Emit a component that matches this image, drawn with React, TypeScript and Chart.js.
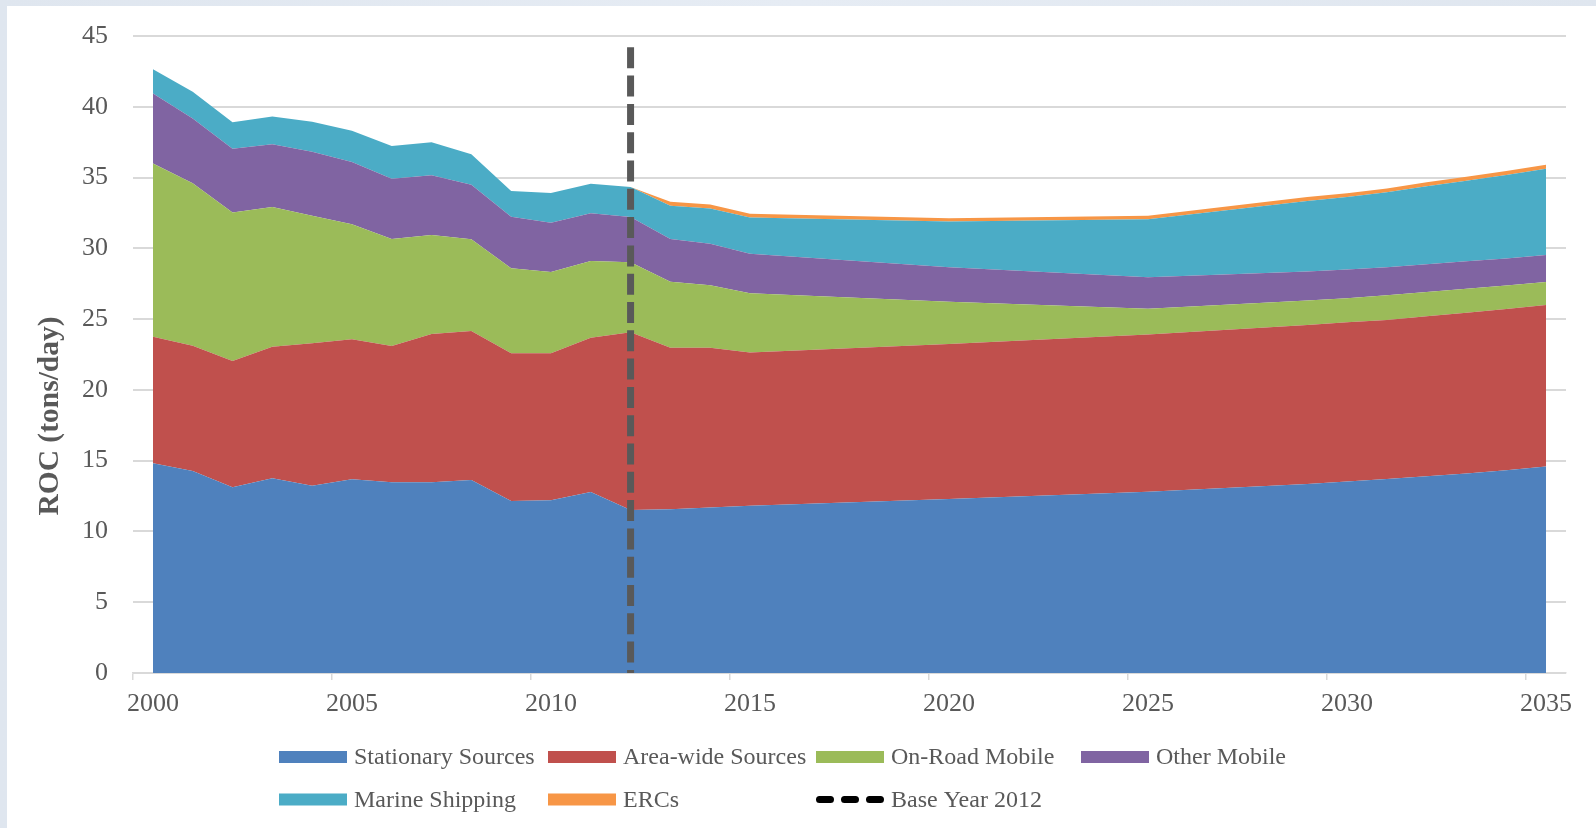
import React, { useEffect, useRef } from 'react';
import { Chart, registerables } from 'chart.js';

Chart.register(...registerables);

// ---- data ----
const years = [
  '2000', '2001', '2002', '2003', '2004', '2005', '2006', '2007', '2008', '2009',
  '2010', '2011', '2012', '2013', '2014', '2015', '2016', '2017', '2018', '2019',
  '2020', '2021', '2022', '2023', '2024', '2025', '2026', '2027', '2028', '2029',
  '2030', '2031', '2032', '2033', '2034', '2035',
];

// null = year not read separately (straight segment in the picture)
const stationary = [
  14.81, 14.27, 13.12, 13.75, 13.23, 13.68, 13.47, 13.47, 13.63, 12.15,
  12.2, 12.79, 11.51, 11.56, 11.7, 11.82, null, null, null, null,
  12.29, null, null, null, null, 12.81, null, null, null, 13.35,
  13.52, 13.7, 13.9, 14.1, 14.33, 14.58,
];
const areaWide = [
  8.95, 8.85, 8.92, 9.3, 10.06, 9.89, 9.63, 10.48, 10.53, 10.43,
  10.38, 10.9, 12.56, 11.42, 11.28, 10.83, null, null, null, null,
  10.95, null, null, null, null, 11.11, null, null, null, 11.23,
  11.25, 11.24, 11.3, 11.35, 11.39, 11.42,
];
const onRoad = [
  12.24, 11.47, 10.5, 9.87, 9.02, 8.13, 7.56, 6.99, 6.48, 6.01,
  5.75, 5.41, 4.94, 4.66, 4.41, 4.17, null, null, null, null,
  2.99, null, null, null, null, 1.82, null, null, null, 1.74,
  1.7, 1.74, 1.71, 1.7, 1.66, 1.62,
];
const otherMobile = [
  4.95, 4.59, 4.5, 4.43, 4.52, 4.4, 4.26, 4.22, 3.86, 3.64,
  3.48, 3.37, 3.2, 3.02, 2.94, 2.8, null, null, null, null,
  2.43, null, null, null, null, 2.21, null, null, null, 2.05,
  2.03, 1.98, 1.96, 1.93, 1.91, 1.91,
];
const marine = [
  1.7, 1.88, 1.86, 1.97, 2.12, 2.21, 2.31, 2.33, 2.14, 1.82,
  2.1, 2.1, 2.12, 2.35, 2.49, 2.56, null, null, null, null,
  3.24, null, null, null, null, 4.1, null, null, null, 4.97,
  5.13, 5.3, 5.51, 5.7, 5.89, 6.09,
];
const ercs = [
  0, 0, 0, 0, 0, 0, 0, 0, 0, 0,
  0, 0, 0, 0.28, 0.28, 0.26, null, null, null, null,
  0.22, null, null, null, null, 0.26, null, null, null, 0.28,
  0.27, 0.27, 0.28, 0.28, 0.28, 0.28,
];

const baseYear = '2012';
const baseYearTop = 44.2;

const seriesNames = [
  'Stationary Sources', 'Area-wide Sources', 'On-Road Mobile',
  'Other Mobile', 'Marine Shipping', 'ERCs', 'Base Year 2012',
];
const seriesColors = ['#4F81BD', '#C0504D', '#9BBB59', '#8064A2', '#4BACC6', '#F79646', '#595959'];

const yTicks = [0, 5, 10, 15, 20, 25, 30, 35, 40, 45];

const FONT = '"Liberation Serif", "Times New Roman", serif';
const TEXT = '#595959';
const GRID = '#d9d9d9';

const yTitlePlugin = {
  id: 'yTitle',
  afterDraw(chart: any) {
    const { ctx, chartArea } = chart;
    ctx.save();
    ctx.translate(chartArea.left - 83, chartArea.top + 380);
    ctx.rotate(-Math.PI / 2);
    ctx.font = `bold 29.5px ${FONT}`;
    ctx.fillStyle = TEXT;
    ctx.textAlign = 'center';
    ctx.textBaseline = 'middle';
    ctx.fillText('ROC (tons/day)', 0, 0);
    ctx.restore();
  },
};

const gridLegendPlugin = {
  id: 'gridLegend',
  afterDraw(chart: any) {
    const { ctx } = chart;
    const cols = [272, 541, 809, 1074];
    const rows = [751, 793.5];
    const sets = chart.data.datasets;
    ctx.save();
    ctx.font = `24px ${FONT}`;
    ctx.textBaseline = 'middle';
    ctx.textAlign = 'left';
    sets.forEach((ds: any, i: number) => {
      const row = i < 4 ? 0 : 1;
      const col = i < 4 ? i : i - 4;
      const x = cols[col];
      const y = rows[row];
      if (ds.isBaseLine) {
        ctx.save();
        ctx.strokeStyle = '#000000';
        ctx.lineWidth = 7;
        ctx.lineCap = 'round';
        ctx.setLineDash([11, 14]);
        ctx.beginPath();
        ctx.moveTo(x + 3.5, y);
        ctx.lineTo(x + 64.5, y);
        ctx.stroke();
        ctx.restore();
      } else {
        ctx.fillStyle = ds.backgroundColor;
        ctx.fillRect(x, y - 6, 68, 12);
      }
      ctx.fillStyle = TEXT;
      ctx.fillText(ds.label, x + 75, y + 1);
    });
    ctx.restore();
  },
};

export default function App() {
  const canvasRef = useRef<HTMLCanvasElement | null>(null);

  useEffect(() => {
    if (!canvasRef.current) return;
    const series = [stationary, areaWide, onRoad, otherMobile, marine, ercs];
    const areaSets = series.map((values, i) => ({
      type: 'line' as const,
      label: seriesNames[i],
      data: values,
      backgroundColor: seriesColors[i],
      borderColor: 'transparent',
      borderWidth: 0,
      pointRadius: 0,
      pointHoverRadius: 0,
      fill: i === 0 ? 'origin' : '-1',
      tension: 0,
      spanGaps: true,
      stack: 'emissions',
      order: 1,
    }));
    const baseSet: any = {
      type: 'line' as const,
      label: seriesNames[6],
      data: [
        { x: baseYear, y: baseYearTop },
        { x: baseYear, y: 0 },
      ],
      borderColor: seriesColors[6],
      backgroundColor: seriesColors[6],
      borderWidth: 7,
      borderDash: [21, 7.3],
      borderCapStyle: 'butt',
      pointRadius: 0,
      pointHoverRadius: 0,
      fill: false,
      stack: 'base',
      order: -1,
      isBaseLine: true,
    };

    const chart = new Chart(canvasRef.current, {
      type: 'line',
      data: { labels: years, datasets: [...areaSets, baseSet] as any },
      plugins: [yTitlePlugin, gridLegendPlugin],
      options: {
        animation: false,
        responsive: false,
        devicePixelRatio: 1,
        events: [],
        layout: { padding: { top: 30, right: 30, left: 0, bottom: 105 } },
        plugins: {
          legend: { display: false },
          title: { display: false },
          tooltip: { enabled: false },
        },
        scales: {
          x: {
            type: 'category',
            offset: true,
            afterFit: (scale: any) => { scale.height = 50; },
            grid: {
              offset: true,
              drawOnChartArea: false,
              drawTicks: true,
              tickLength: 7,
              lineWidth: 1.5,
              color: (c: any) => (c.index % 5 === 0 && c.index < years.length ? GRID : 'rgba(0,0,0,0)'),
            },
            border: { display: true, color: GRID, width: 1.5 },
            ticks: {
              autoSkip: false,
              maxRotation: 0,
              minRotation: 0,
              padding: 9,
              color: TEXT,
              font: { family: FONT, size: 26 },
              callback: (_v: any, idx: number) => (idx % 5 === 0 ? years[idx] : ''),
            },
          },
          y: {
            stacked: true,
            min: yTicks[0],
            max: yTicks[yTicks.length - 1],
            afterFit: (scale: any) => { scale.width = 126; },
            afterBuildTicks: (scale: any) => { scale.ticks = yTicks.map((v) => ({ value: v })); },
            grid: {
              color: GRID,
              lineWidth: 2,
              drawTicks: true,
              tickLength: 25,
              tickColor: 'rgba(0,0,0,0)',
            },
            border: { display: false },
            ticks: {
              padding: 0,
              color: TEXT,
              font: { family: FONT, size: 26 },
            },
          },
        },
      },
    });
    return () => chart.destroy();
  }, []);

  return (
    <div style={{ position: 'fixed', left: 0, top: 0, width: 1596, height: 828, background: 'linear-gradient(90deg, #dfe6ef 0%, #e6ecf4 50%, #dfe6ef 100%)', overflow: 'hidden' }}>
      <div style={{ position: 'absolute', left: 7, top: 6, width: 1589, height: 822, background: '#ffffff' }}>
        <canvas ref={canvasRef} width={1589} height={822} style={{ display: 'block', width: 1589, height: 822 }} />
      </div>
    </div>
  );
}
